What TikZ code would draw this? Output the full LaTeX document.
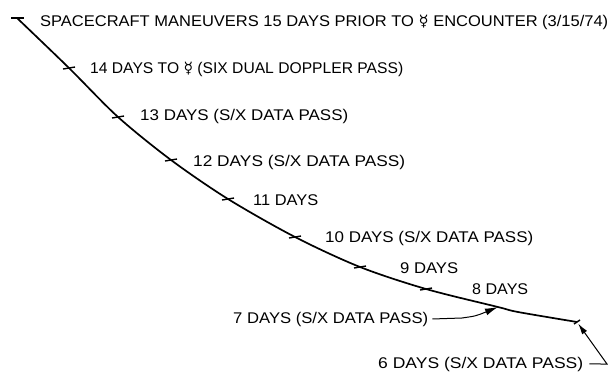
\documentclass[tikz,border=0pt]{standalone}
\usepackage{fontspec}
\usepackage{graphicx}
\setmainfont{Liberation Sans}
\newfontfamily\symfont{DejaVu Sans}
\usetikzlibrary{arrows.meta}
\newcommand\fitto[2]{\resizebox{#1pt}{\height}{#2}}
\newcommand\merc{{\symfont ☿}}
\tikzset{
  lbl/.style={anchor=base west, inner sep=0pt, font=\fontsize{15.5}{18}\selectfont},
  traj/.style={line width=1.7pt, line join=round},
  tickbar/.style={line width=1.4pt},
  leader/.style={line width=1pt},
}
\begin{document}
\begin{tikzpicture}[x=1pt,y=-1pt]
\useasboundingbox (0,0) rectangle (611,375);
% points on the trajectory
\coordinate (d15) at (17,18);
\coordinate (d14) at (69,68);
\coordinate (d13) at (118,117);
\coordinate (d12) at (171,160);
\coordinate (d11) at (228,199);
\coordinate (d10) at (295,237);
\coordinate (d9) at (360,267);
\coordinate (d8) at (426,289);
\coordinate (d7) at (498,307);
\coordinate (d6) at (577,322);
\draw[traj] plot[smooth, tension=0.5] coordinates {(d15) (d14) (d13) (d12) (d11) (d10) (d9) (d8) (d7) (518,312) (d6)};
% tick marks
\foreach \p in {d14,d13,d12,d11,d10,d9,d8}
  \draw[tickbar] ([xshift=-6pt,yshift=-1pt]\p) -- ([xshift=6pt,yshift=1pt]\p);
\draw[tickbar] ([xshift=-6pt]d15) -- ([xshift=7pt]d15);
\draw[tickbar] ([xshift=-3pt,yshift=-2pt]d6) -- ([xshift=3pt,yshift=2pt]d6);
% labels
\node[lbl] (t15) at (40,26) {\fitto{568}{SPACECRAFT MANEUVERS 15 DAYS PRIOR TO \merc\ ENCOUNTER (3/15/74)}};
\node[lbl] (t14) at (90,73) {\fitto{313}{14 DAYS TO \merc\ (SIX DUAL DOPPLER PASS)}};
\node[lbl] (t13) at (140,120) {\fitto{208}{13 DAYS (S/X DATA PASS)}};
\node[lbl] (t12) at (193,166) {\fitto{212}{12 DAYS (S/X DATA PASS)}};
\node[lbl] (t11) at (253,205) {\fitto{65}{11 DAYS}};
\node[lbl] (t10) at (325,242) {\fitto{208}{10 DAYS (S/X DATA PASS)}};
\node[lbl] (t9) at (400,273) {\fitto{58}{9 DAYS}};
\node[lbl] (t8) at (472,294) {\fitto{56}{8 DAYS}};
\node[lbl] (t7) at (233,323) {\fitto{195}{7 DAYS (S/X DATA PASS)}};
\node[lbl] (t6) at (378,368) {\fitto{205}{6 DAYS (S/X DATA PASS)}};
% leaders
\coordinate (k7) at (462,318);
\coordinate (k6) at (607,364);
\draw[leader, -{Latex[length=13pt,width=7pt]}] ([xshift=4pt]t7.east) -- (k7) .. controls (476,316) .. (d7);
\draw[leader, -{Latex[length=11pt,width=6pt]}, shorten >=2pt] ([xshift=6pt]t6.east) -- (k6) -- (d6);
\end{tikzpicture}
\end{document}
